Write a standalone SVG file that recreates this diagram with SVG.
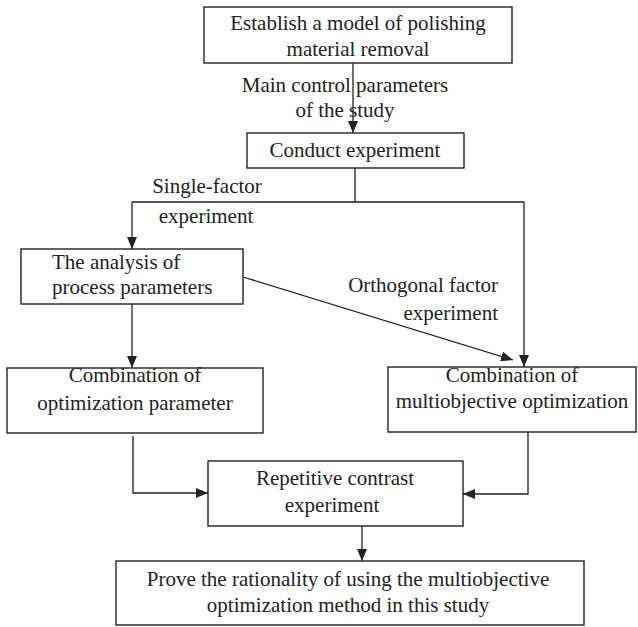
<svg xmlns="http://www.w3.org/2000/svg" width="638" height="627" viewBox="0 0 638 627">
<style>
.box{fill:#fff;stroke:#222;stroke-width:1.4}
.t{font-family:"Liberation Serif","Times New Roman",serif;font-size:21px;fill:#222;text-anchor:middle}
.ts{text-anchor:start}
.te{text-anchor:end}
.c{fill:none;stroke:#222;stroke-width:1.3}
</style>
<defs>
<marker id="ah" markerUnits="userSpaceOnUse" markerWidth="12" markerHeight="10" viewBox="0 0 12 10" refX="12" refY="5" orient="auto">
<path d="M0,0 L12,5 L0,10 Z" fill="#222"/>
</marker>
</defs>
<rect width="638" height="627" fill="#fff"/>
<g id="connectors">
<path class="c" d="M353,63 V133" marker-end="url(#ah)"/>
<path class="c" d="M355,168 V202 M132,202 H524"/>
<path class="c" d="M132,202 V249" marker-end="url(#ah)"/>
<path class="c" d="M524,202 V367" marker-end="url(#ah)"/>
<path class="c" d="M243,277 L513,360" marker-end="url(#ah)"/>
<path class="c" d="M132,304 V368" marker-end="url(#ah)"/>
<path class="c" d="M133,436 V493 H208" marker-end="url(#ah)"/>
<path class="c" d="M528,432 V494 H463" marker-end="url(#ah)"/>
<path class="c" d="M362,526 V561" marker-end="url(#ah)"/>
</g>
<g id="labels">
<text class="t" x="345" y="92">Main control parameters</text>
<text class="t" x="345" y="117">of the study</text>
<text class="t" x="207" y="193">Single-factor</text>
<text class="t" x="206" y="223">experiment</text>
<text class="t te" x="498" y="292">Orthogonal factor</text>
<text class="t te" x="498" y="320">experiment</text>
</g>
<g id="n1">
<rect class="box" x="204" y="7" width="308" height="56"/>
<text class="t" x="358" y="30">Establish a model of polishing</text>
<text class="t" x="358" y="56">material removal</text>
</g>
<g id="n2">
<rect class="box" x="247" y="133" width="217" height="35"/>
<text class="t" x="355" y="157">Conduct experiment</text>
</g>
<g id="n3">
<rect class="box" x="21" y="249" width="222" height="55"/>
<text class="t ts" x="52" y="269">The analysis of</text>
<text class="t ts" x="52" y="294">process parameters</text>
</g>
<g id="n4">
<rect class="box" x="7" y="368" width="256" height="65"/>
<text class="t" x="135" y="382">Combination of</text>
<text class="t" x="135" y="410">optimization parameter</text>
</g>
<g id="n5">
<rect class="box" x="388" y="367" width="248" height="65"/>
<text class="t" x="512" y="382">Combination of</text>
<text class="t" x="512" y="408">multiobjective optimization</text>
</g>
<g id="n6">
<rect class="box" x="208" y="461" width="255" height="65"/>
<text class="t" x="335" y="485">Repetitive contrast</text>
<text class="t" x="332" y="512">experiment</text>
</g>
<g id="n7">
<rect class="box" x="116" y="561" width="468" height="64"/>
<text class="t" x="348" y="586">Prove the rationality of using the multiobjective</text>
<text class="t" x="348" y="612">optimization method in this study</text>
</g>
</svg>
